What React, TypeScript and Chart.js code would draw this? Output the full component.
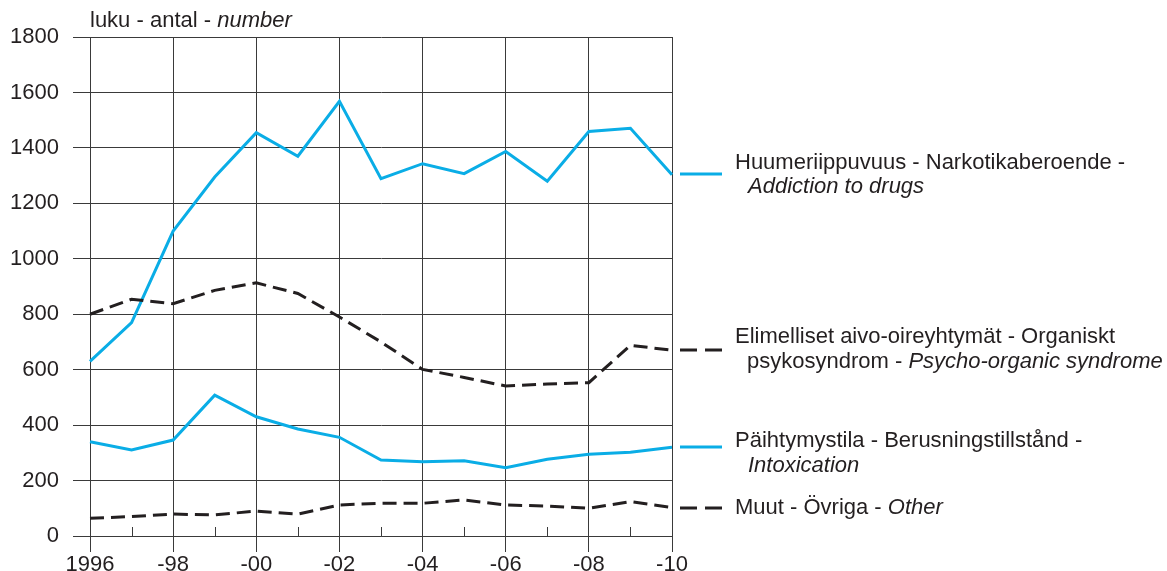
import React, { useEffect, useRef } from "react";
import { Chart, registerables } from "chart.js";

Chart.register(...registerables);

const years = ["1996","1997","1998","1999","2000","2001","2002","2003","2004","2005","2006","2007","2008","2009","2010"];
const tickLabels = ["1996","","-98","","-00","","-02","","-04","","-06","","-08","","-10"];

const drugs = [630, 770, 1100, 1295, 1455, 1370, 1568, 1289, 1343, 1307, 1387, 1280, 1459, 1471, 1303];
const organic = [800, 854, 838, 886, 913, 875, 790, 700, 601, 572, 541, 548, 553, 688, 670];
const intoxication = [340, 310, 346, 508, 430, 386, 356, 274, 268, 271, 246, 277, 295, 302, 320];
const other = [64, 70, 79, 76, 90, 79, 112, 118, 118, 130, 112, 108, 100, 124, 103];

const BLUE = "#0AADE6";
const DARK = "#231f20";
const GRID = "#3a3a3a";
const FONT = "'Liberation Sans', Arial, sans-serif";
const FS = 22;

type Seg = [string, boolean];
const legendItems: { dashed: boolean; color: string; lineY: number; lines: { x: number; y: number; segs: Seg[] }[] }[] = [
  {
    dashed: false, color: BLUE, lineY: 174,
    lines: [
      { x: 735, y: 163, segs: [["Huumeriippuvuus - Narkotikaberoende -", false]] },
      { x: 748, y: 187, segs: [["Addiction to drugs", true]] },
    ],
  },
  {
    dashed: true, color: DARK, lineY: 350,
    lines: [
      { x: 735, y: 337, segs: [["Elimelliset aivo-oireyhtymät - Organiskt", false]] },
      { x: 747, y: 362, segs: [["psykosyndrom - ", false], ["Psycho-organic syndrome", true]] },
    ],
  },
  {
    dashed: false, color: BLUE, lineY: 447,
    lines: [
      { x: 735, y: 441, segs: [["Päihtymystila - Berusningstillstånd -", false]] },
      { x: 748, y: 466, segs: [["Intoxication", true]] },
    ],
  },
  {
    dashed: true, color: DARK, lineY: 508,
    lines: [{ x: 735, y: 508, segs: [["Muut - Övriga - ", false], ["Other", true]] }],
  },
];

function drawSegs(ctx: CanvasRenderingContext2D, segs: Seg[], x: number, y: number) {
  let cx = x;
  ctx.textBaseline = "middle";
  ctx.textAlign = "left";
  ctx.fillStyle = DARK;
  for (const [t, it] of segs) {
    ctx.font = `${it ? "italic " : ""}${FS}px ${FONT}`;
    ctx.fillText(t, cx, y);
    cx += ctx.measureText(t).width;
  }
}

const overlay = {
  id: "overlay",
  afterDraw(chart: any) {
    const ctx: CanvasRenderingContext2D = chart.ctx;
    const xs = chart.scales.x;
    const ys = chart.scales.y;
    ctx.save();
    // minor ticks at odd years
    ctx.strokeStyle = GRID;
    ctx.lineWidth = 1;
    for (let i = 1; i < years.length; i += 2) {
      const px = Math.round(xs.getPixelForValue(i)) + 0.5;
      ctx.beginPath();
      ctx.moveTo(px, ys.bottom);
      ctx.lineTo(px, ys.bottom - 9);
      ctx.stroke();
    }
    // axis title
    drawSegs(ctx, [["luku - antal - ", false], ["number", true]], xs.left, 21);
    // legend
    for (const item of legendItems) {
      ctx.strokeStyle = item.color;
      ctx.lineWidth = 3;
      ctx.setLineDash(item.dashed ? [17, 8] : []);
      ctx.beginPath();
      ctx.moveTo(680, item.lineY);
      ctx.lineTo(722, item.lineY);
      ctx.stroke();
      ctx.setLineDash([]);
      for (const l of item.lines) drawSegs(ctx, l.segs, l.x, l.y);
    }
    ctx.restore();
  },
};

export default function App() {
  const ref = useRef<HTMLCanvasElement | null>(null);
  useEffect(() => {
    if (!ref.current) return;
    const ds = (label: string, data: number[], color: string, dashed: boolean) => ({
      label,
      data,
      borderColor: color,
      backgroundColor: color,
      borderWidth: 3,
      borderDash: dashed ? [14, 7] : [],
      pointRadius: 0,
      tension: 0,
      fill: false,
      borderJoinStyle: "miter" as const,
    });
    const chart = new Chart(ref.current, {
      type: "line",
      data: {
        labels: years,
        datasets: [
          ds("Muut - Övriga - Other", other, DARK, true),
          ds("Elimelliset aivo-oireyhtymät - Organiskt psykosyndrom - Psycho-organic syndrome", organic, DARK, true),
          ds("Päihtymystila - Berusningstillstånd - Intoxication", intoxication, BLUE, false),
          ds("Huumeriippuvuus - Narkotikaberoende - Addiction to drugs", drugs, BLUE, false),
        ],
      },
      options: {
        animation: false,
        responsive: false,
        layout: { padding: { top: 37, right: 495, left: 0, bottom: 0 } },
        plugins: { legend: { display: false }, tooltip: { enabled: false }, title: { display: false } },
        scales: {
          x: {
            type: "category",
            offset: false,
            afterFit: (s: any) => { s.height = 35; },
            grid: {
              color: (c: any) => (c.index % 2 === 0 ? GRID : "rgba(0,0,0,0)"),
              tickColor: (c: any) => (c.index % 2 === 0 ? GRID : "rgba(0,0,0,0)"),
              tickLength: 16,
              lineWidth: 1,
            },
            border: { color: GRID, width: 1 },
            ticks: {
              autoSkip: false,
              maxRotation: 0,
              padding: 0,
              color: DARK,
              font: { family: FONT, size: FS },
              callback: (_v: any, i: number) => tickLabels[i],
            },
          },
          y: {
            min: 0,
            max: 1800,
            afterFit: (s: any) => { s.width = 90; },
            grid: { color: GRID, tickColor: GRID, tickLength: 17, lineWidth: 1 },
            border: { color: GRID, width: 1 },
            ticks: {
              stepSize: 200,
              padding: 14,
              color: DARK,
              font: { family: FONT, size: FS },
              callback: (v: any) => String(v),
            },
          },
        },
      },
      plugins: [overlay],
    });
    return () => chart.destroy();
  }, []);
  return (
    <div style={{ position: "fixed", left: 0, top: 0, width: 1167, height: 571, background: "#fff" }}>
      <canvas ref={ref} width={1167} height={571} style={{ display: "block", width: 1167, height: 571 }} />
    </div>
  );
}
